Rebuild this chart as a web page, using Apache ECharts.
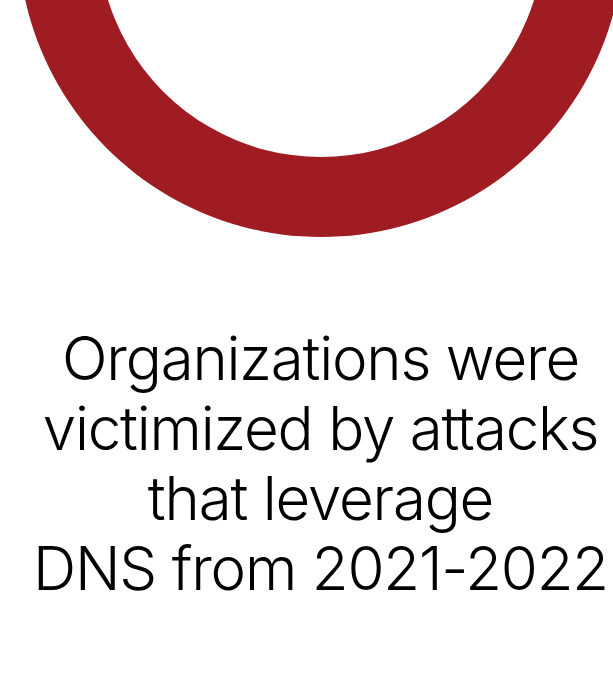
<!DOCTYPE html>
<html>
<head>
<meta charset="utf-8">
<script src="https://cdn.jsdelivr.net/npm/echarts@6/dist/echarts.min.js"></script>
<style>
html,body{margin:0;padding:0;background:#fff;}
#main{width:613px;height:685px;}
#main svg text{letter-spacing:-1.2px;}
</style>
</head>
<body>
<div id="main"></div>
<script>
const categories = ['Victimized'];
const values = [100];
const captionLines = ['Organizations were', 'victimized by attacks', 'that leverage', 'DNS from 2021-2022'];

const chart = echarts.init(document.getElementById('main'), null, {renderer: 'svg'});
chart.setOption({
  backgroundColor: '#ffffff',
  animation: false,
  graphic: [{
    type: 'text',
    x: 320.5,
    y: 322.5,
    silent: true,
    style: {
      text: captionLines.join('\n'),
      align: 'center',
      verticalAlign: 'top',
      fontFamily: 'Inter',
      fontWeight: 300,
      fontSize: 60,
      lineHeight: 70,
      fill: '#000000'
    }
  }],
  series: [{
    type: 'pie',
    silent: true,
    center: [321, -66],
    radius: [223, 303],
    startAngle: 90,
    label: {show: false},
    labelLine: {show: false},
    itemStyle: {color: '#9e1c22', borderWidth: 0},
    data: categories.map((c, i) => ({name: c, value: values[i]}))
  }]
});
</script>
</body>
</html>
